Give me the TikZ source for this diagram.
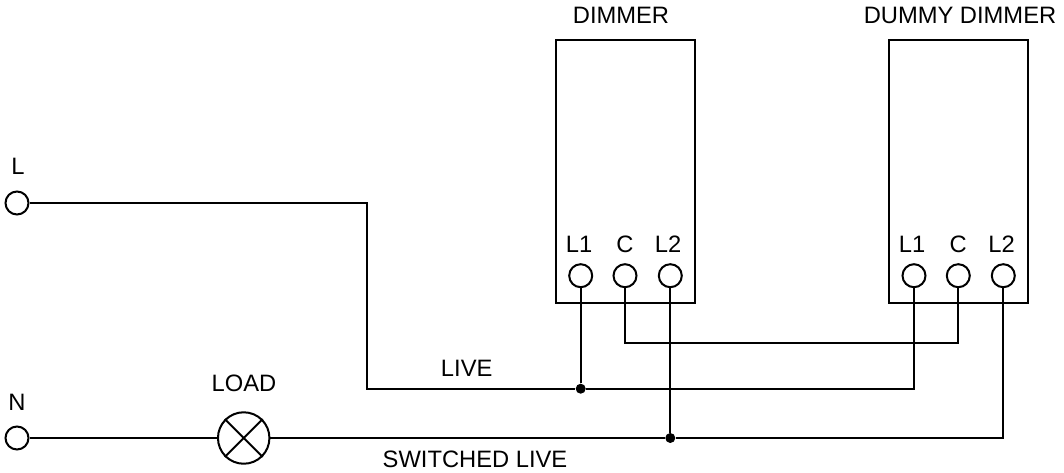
\documentclass[tikz,border=0pt]{standalone}
\usepackage{fontspec}
\setmainfont{Liberation Sans}
\begin{document}
\begin{tikzpicture}[x=0.75pt,y=-0.75pt]
                \tikzstyle{term}=[circle, draw=black, line width=1.5pt, inner sep=0pt, minimum size=17.25pt]
                \tikzstyle{lamp}=[circle, draw=black, line width=1.5pt, inner sep=0pt, minimum size=38.6pt]
                \tikzstyle{dot}=[circle, fill=black, inner sep=0pt, minimum size=7.5pt]
                \tikzstyle{housing}=[rectangle, draw=black, line width=1.5pt, inner sep=0pt, minimum width=104pt, minimum height=197pt]
                \tikzstyle{tag}=[font=\fontsize{17.8}{20}\selectfont, text=black, inner sep=0pt]
                \tikzstyle{wire}=[black, line width=1.5pt]

                \useasboundingbox (0,0) rectangle (1064,472);

                \node[housing] (dimmer) at (625.3,171.5) {};
                \node[housing] (dummy) at (958.7,171.5) {};

                \node[term] (termL) at (17,203) {};
                \node[term] (termN) at (17,438) {};
                \node[lamp] (load) at (243.7,438) {};

                \node[term] (dimmerLone) at (580.7,275.7) {};
                \node[term] (dimmerC) at (625,275.7) {};
                \node[term] (dimmerLtwo) at (670.3,275.7) {};
                \node[term] (dummyLone) at (914,275.7) {};
                \node[term] (dummyC) at (958.3,275.7) {};
                \node[term] (dummyLtwo) at (1003.3,275.7) {};

                \node[dot] (livedot) at (580.7,388.7) {};
                \node[dot] (switchdot) at (670.3,438) {};
                \coordinate (livebend) at (367,388.7);
                \coordinate (bridge) at (625,342.7);

                \node[tag] (dimmertag) at (621,15) {DIMMER};
                \node[tag] (dummytag) at (960,15) {DUMMY DIMMER};
                \node[tag] (ltag) at (18,166) {L};
                \node[tag] (ntag) at (17,402) {N};
                \node[tag] (loadtag) at (244,383.5) {LOAD};
                \node[tag] (livetag) at (466.7,368.5) {LIVE};
                \node[tag] (switchtag) at (475,459.5) {SWITCHED LIVE};
                \node[tag] (dimmerLonetag) at (579,244) {L1};
                \node[tag] (dimmerCtag) at (625,244) {C};
                \node[tag] (dimmerLtwotag) at (668,244) {L2};
                \node[tag] (dummyLonetag) at (912,244) {L1};
                \node[tag] (dummyCtag) at (958.3,244) {C};
                \node[tag] (dummyLtwotag) at (1001.5,244) {L2};

                \draw[wire] (termL) -| (livebend) -- (livedot);
                \draw[wire] (livedot) -- (dimmerLone);
                \draw[wire] (livedot) -| (dummyLone);
                \draw[wire] (dimmerC) |- (bridge) -| (dummyC);
                \draw[wire] (termN) -- (load);
                \draw[wire] (load) -- (switchdot);
                \draw[wire] (switchdot) -- (dimmerLtwo);
                \draw[wire] (switchdot) -| (dummyLtwo);
                \draw[wire] (load.north west) -- (load.south east);
                \draw[wire] (load.north east) -- (load.south west);
            \end{tikzpicture}
\end{document}
